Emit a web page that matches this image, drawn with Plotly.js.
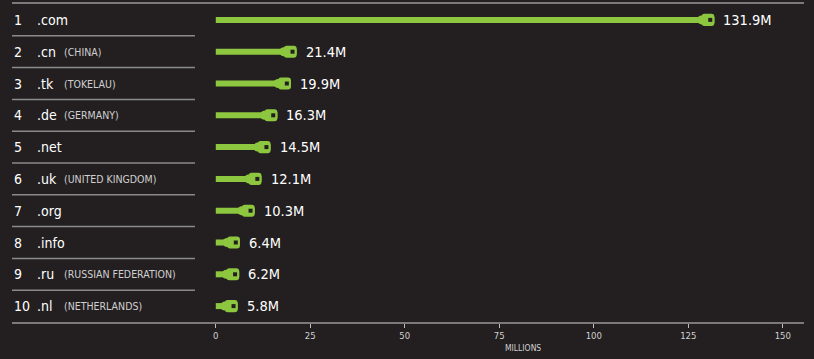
<!DOCTYPE html>
<html>
<head>
<meta charset="utf-8">
<script src="https://cdn.plot.ly/plotly-3.0.1.min.js"></script>
<style>
html,body{margin:0;padding:0;background:#231f20;}
#chart{width:814px;height:359px;}
</style>
</head>
<body>
<div id="chart"></div>
<script>
const ranks = ['1','2','3','4','5','6','7','8','9','10'];
const domains = ['.com','.cn','.tk','.de','.net','.uk','.org','.info','.ru','.nl'];
const countries = ['','(CHINA)','(TOKELAU)','(GERMANY)','','(UNITED KINGDOM)','','','(RUSSIAN FEDERATION)','(NETHERLANDS)'];
const values = [131.9, 21.4, 19.9, 16.3, 14.5, 12.1, 10.3, 6.4, 6.2, 5.8];
const valueLabels = ['131.9M','21.4M','19.9M','16.3M','14.5M','12.1M','10.3M','6.4M','6.2M','5.8M'];
const tickValues = [0, 25, 50, 75, 100, 125, 150];
const axisTitle = 'MILLIONS';

const BG = '#231f20';
const GREEN = '#8dc63f';
const FONT = "'Liberation Sans Narrow', 'DejaVu Sans Condensed', 'Roboto Condensed', 'Arial Narrow', sans-serif";
const plugLen = 3.4;
const holeOff = 1.1;

const traces = [
  {type:'bar', orientation:'h', y:domains, x:values, width:0.19,
   marker:{color:GREEN}, hoverinfo:'skip'},
  {type:'bar', orientation:'h', y:domains, base:values.map(v=>v-plugLen),
   x:values.map(()=>plugLen), width:0.38,
   marker:{color:GREEN, cornerradius:3}, hoverinfo:'skip'},
  {type:'scatter', mode:'markers', y:domains, x:values.map(v=>v-plugLen),
   marker:{symbol:'circle', size:9, color:GREEN}, hoverinfo:'skip'},
  {type:'scatter', mode:'markers', y:domains, x:values.map(v=>v-holeOff),
   marker:{symbol:'square', size:4, color:BG, line:{width:0}}, hoverinfo:'skip'}
];

const annotations = [];
const shapes = [];
domains.forEach((d,i)=>{
  annotations.push({xref:'paper', yref:'y', x:0, y:d, xanchor:'left', yanchor:'middle', xshift:0,
    text:ranks[i], showarrow:false, font:{family:FONT, size:14, color:'#ffffff'}});
  annotations.push({xref:'paper', yref:'y', x:0, y:d, xanchor:'left', yanchor:'middle', xshift:23,
    text:d, showarrow:false, font:{family:FONT, size:14, color:'#ffffff'}});
  if (countries[i]) annotations.push({xref:'paper', yref:'y', x:0, y:d, xanchor:'left', yanchor:'middle', xshift:50,
    text:countries[i], showarrow:false, font:{family:FONT, size:10.5, color:'#d0d0d0'}});
  annotations.push({xref:'x', yref:'y', x:values[i], y:d, xanchor:'left', yanchor:'middle', xshift:7,
    text:valueLabels[i], showarrow:false, font:{family:FONT, size:14.5, color:'#ffffff'}});
  if (i < domains.length-1) shapes.push({type:'line', xref:'paper', yref:'y', x0:0, x1:0.231,
    y0:i+0.5, y1:i+0.5, line:{color:'#8a8a8a', width:1.5}});
});
annotations.push({xref:'paper', yref:'paper', x:0.645, y:0, yshift:-26, xanchor:'center', yanchor:'middle',
  text:axisTitle, showarrow:false, font:{family:FONT, size:8.5, color:'#d0d0d0'}});

const layout = {
  width:814, height:359,
  margin:{l:12, r:10, t:4, b:37, pad:0},
  paper_bgcolor:BG, plot_bgcolor:BG,
  showlegend:false, barmode:'overlay',
  xaxis:{range:[-53.9, 155.6], tickvals:tickValues, ticktext:tickValues.map(String),
    ticks:'outside', ticklen:4, tickwidth:1, tickcolor:'#bbbbbb',
    showline:true, linecolor:'#7a7a7a', linewidth:2, mirror:true,
    showgrid:false, zeroline:false, fixedrange:true,
    tickfont:{family:FONT, size:9.5, color:'#d0d0d0'}},
  yaxis:{type:'category', range:[9.5,-0.5], showticklabels:false, showgrid:false,
    zeroline:false, showline:false, ticks:'', fixedrange:true},
  annotations:annotations, shapes:shapes
};

Plotly.newPlot('chart', traces, layout, {displayModeBar:false, staticPlot:true});
</script>
</body>
</html>
